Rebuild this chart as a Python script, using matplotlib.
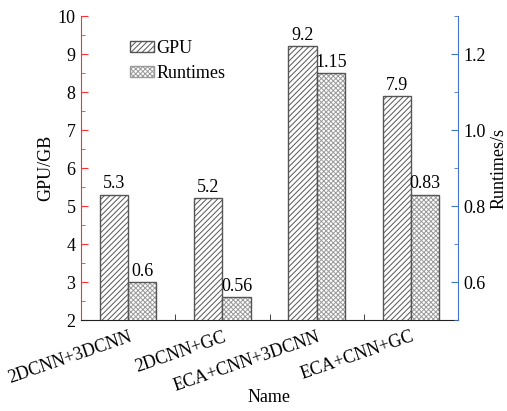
import matplotlib
matplotlib.use("Agg")
import matplotlib.pyplot as plt
import numpy as np
from matplotlib.ticker import MultipleLocator, FixedLocator
from matplotlib.patches import Patch

categories = ["2DCNN+3DCNN", "2DCNN+GC", "ECA+CNN+3DCNN", "ECA+CNN+GC"]
gpu = [5.3, 5.2, 9.2, 7.9]
runtimes = [0.6, 0.56, 1.15, 0.83]
gpu_labels = ["5.3", "5.2", "9.2", "7.9"]
rt_labels = ["0.6", "0.56", "1.15", "0.83"]

plt.rcParams['font.family'] = ['Liberation Serif', 'DejaVu Serif']
plt.rcParams['hatch.linewidth'] = 0.7
FS = 13

fig = plt.figure(figsize=(5.07, 4.11), dpi=100)
ax = fig.add_axes([81/507, 1-320/411, (458-81)/507, (320-16)/411])
ax2 = ax.twinx()

x = np.arange(len(categories))
w = 0.3
edge = '#555555'
light = '#9a9a9a'
b1 = ax.bar(x - w/2, gpu, w, facecolor='white', edgecolor=edge, hatch='//////',
            linewidth=1.0, zorder=2)
# runtime bars: light cross-hatch fill, then dark outline
ax2.bar(x + w/2, runtimes, w, facecolor='white', edgecolor=light, hatch='xxxxxxx',
        linewidth=0, zorder=2)
ax2.bar(x + w/2, runtimes, w, facecolor='none', edgecolor=edge, linewidth=1.0, zorder=3)

ax.set_ylim(2, 10)
ax2.set_ylim(0.5, 1.3)
ax.set_xlim(-0.5, 3.5)

for xi, v, t in zip(x, gpu, gpu_labels):
    ax.text(xi - w/2, v + 0.06, t, ha='center', va='bottom', fontsize=FS)
for xi, v, t in zip(x, runtimes, rt_labels):
    ax2.text(xi + w/2, v + 0.006, t, ha='center', va='bottom', fontsize=FS)

red = '#ff3030'
blue = '#4472c4'
ax.spines['left'].set_color(red)
ax.spines['top'].set_visible(False)
ax2.spines['top'].set_visible(False)
ax2.spines['left'].set_visible(False)
ax.spines['right'].set_visible(False)
ax2.spines['right'].set_color(blue)
ax.spines['bottom'].set_color('#222222')
ax2.spines['bottom'].set_visible(False)

ax.yaxis.set_major_locator(MultipleLocator(1))
ax.yaxis.set_minor_locator(MultipleLocator(0.5))
ax.tick_params(axis='y', which='major', direction='in', length=5, color=red, labelsize=FS, pad=4)
ax.tick_params(axis='y', which='minor', direction='in', length=3, color=red)
ax2.yaxis.set_major_locator(FixedLocator([0.6, 0.8, 1.0, 1.2]))
ax2.yaxis.set_minor_locator(FixedLocator([0.5, 0.7, 0.9, 1.1, 1.3]))
ax2.tick_params(axis='y', which='major', direction='in', length=5, color=blue, labelsize=FS, pad=4)
ax2.tick_params(axis='y', which='minor', direction='in', length=3, color=blue)

ax.set_xticks(x)
ax.set_xticklabels(categories, rotation=19, ha='right', rotation_mode='anchor', fontsize=FS)
ax.xaxis.set_minor_locator(FixedLocator([0.5, 1.5, 2.5]))
ax.tick_params(axis='x', which='major', length=0, pad=6)
ax.tick_params(axis='x', which='minor', direction='in', length=4, color='#222222')

ax.set_xlabel('Name', fontsize=FS)
ax.xaxis.set_label_coords(0.5, -0.228)
ax.set_ylabel('GPU/GB', fontsize=FS, labelpad=2)
ax2.set_ylabel('Runtimes/s', fontsize=FS, labelpad=3)

h1 = Patch(facecolor='white', edgecolor=edge, hatch='//////', linewidth=1.0)
h2 = Patch(facecolor='white', edgecolor=light, hatch='xxxxxxx', linewidth=1.0)
ax.legend(handles=[h1, h2], labels=['GPU', 'Runtimes'], loc='upper left',
          bbox_to_anchor=(0.13, 0.922), frameon=False, fontsize=FS,
          handlelength=1.35, handleheight=0.55, handletextpad=0.1,
          labelspacing=0.45, borderaxespad=0, borderpad=0)

fig.savefig('out.png', dpi=100)
